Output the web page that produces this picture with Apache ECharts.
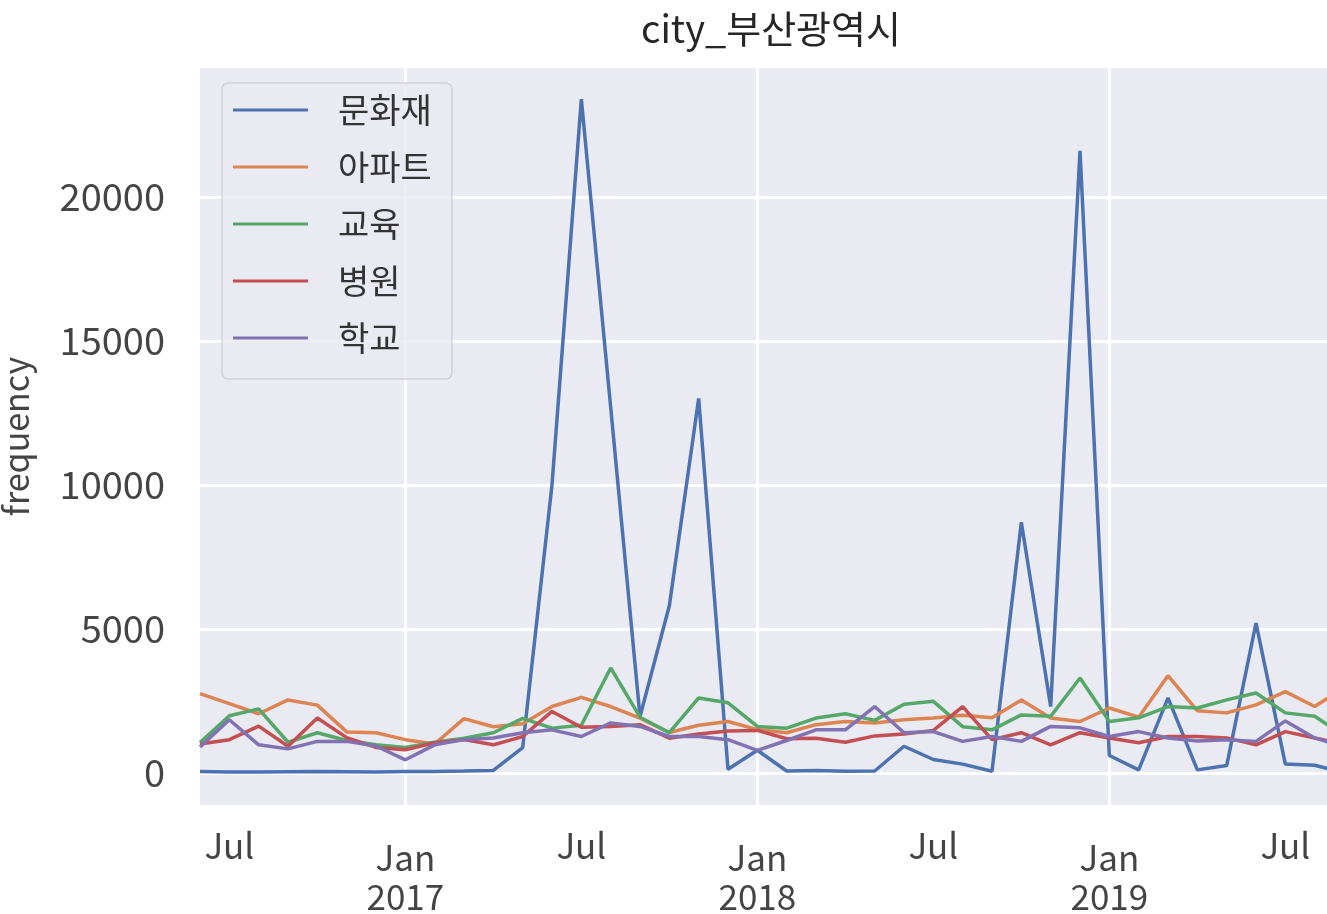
<!DOCTYPE html>
<html>
<head>
<meta charset="utf-8">
<script src="https://cdn.jsdelivr.net/npm/echarts@6/dist/echarts.min.js"></script>
<style>
  html, body { margin: 0; padding: 0; background: #ffffff; }
  #chart { width: 1327px; height: 914px; }
</style>
</head>
<body>
<div id="chart"></div>
<script>
// Monthly periods, Jun 2016 .. Sep 2019
const months = [
  '2016-06','2016-07','2016-08','2016-09','2016-10','2016-11','2016-12',
  '2017-01','2017-02','2017-03','2017-04','2017-05','2017-06','2017-07','2017-08','2017-09','2017-10','2017-11','2017-12',
  '2018-01','2018-02','2018-03','2018-04','2018-05','2018-06','2018-07','2018-08','2018-09','2018-10','2018-11','2018-12',
  '2019-01','2019-02','2019-03','2019-04','2019-05','2019-06','2019-07','2019-08','2019-09'
];

const seriesNames = ['문화재', '아파트', '교육', '병원', '학교'];

const heritage = [
  40, 30, 30, 35, 40, 35, 30,
  40, 45, 60, 80, 870, 10000, 23400, 12700, 1950, 5800, 13000, 120,
  780, 60, 80, 50, 60, 920, 460, 300, 50, 8700, 2300, 21600,
  600, 100, 2600, 100, 250, 5200, 300, 260, 0
];
const apartment = [
  2750, 2400, 2050, 2530, 2350, 1420, 1390,
  1150, 1000, 1880, 1600, 1700, 2300, 2620, 2300, 1900, 1400, 1650, 1780,
  1500, 1390, 1670, 1780, 1730, 1840, 1900, 2000, 1910, 2530, 1900, 1780,
  2250, 1930, 3370, 2150, 2080, 2360, 2820, 2300, 2950
];
const education = [
  1050, 1980, 2220, 1060, 1390, 1120, 970,
  880, 1060, 1200, 1390, 1890, 1550, 1650, 3640, 1930, 1390, 2600, 2430,
  1610, 1550, 1900, 2050, 1820, 2380, 2480, 1600, 1490, 2010, 1960, 3290,
  1780, 1910, 2300, 2250, 2530, 2770, 2080, 1960, 1300
];
const hospital = [
  1000, 1150, 1620, 920, 1900, 1220, 880,
  800, 1040, 1150, 970, 1260, 2130, 1580, 1610, 1670, 1200, 1350, 1450,
  1470, 1180, 1200, 1060, 1280, 1350, 1470, 2300, 1150, 1390, 970, 1390,
  1210, 1040, 1260, 1260, 1210, 970, 1430, 1210, 1000
];
const school = [
  900, 1840, 970, 830, 1090, 1090, 930,
  450, 970, 1150, 1210, 1390, 1490, 1260, 1730, 1610, 1260, 1260, 1150,
  780, 1120, 1490, 1490, 2300, 1390, 1430, 1090, 1260, 1090, 1610, 1560,
  1260, 1430, 1210, 1100, 1150, 1090, 1800, 1210, 900
];

const seriesValues = [heritage, apartment, education, hospital, school];
const seriesColors = ['#4C72B0', '#DD8452', '#55A868', '#C44E52', '#8172B3'];

// Tick positions on the month axis
const majorTickMonths = ['2017-01', '2018-01', '2019-01'];
const labelTickMonths = ['2016-07', '2017-01', '2017-07', '2018-01', '2018-07', '2019-01', '2019-07'];
const yTicks = [0, 5000, 10000, 15000, 20000];

const monthIndex = m => months.indexOf(m);
const FONT = '"Noto Sans CJK KR", "Noto Sans", sans-serif';
const LABEL_COLOR = '#444444';

const chart = echarts.init(document.getElementById('chart'), null, { renderer: 'canvas' });

chart.setOption({
  animation: false,
  backgroundColor: '#ffffff',
  title: {
    text: 'city_부산광역시',
    left: 636,
    top: 5,
    textStyle: { fontFamily: FONT, fontSize: 38, fontWeight: 'normal', color: '#262626' }
  },
  legend: {
    orient: 'vertical',
    left: 222,
    top: 83,
    selectedMode: false,
    data: seriesNames,
    icon: 'rect',
    itemWidth: 75,
    itemHeight: 3,
    itemGap: 17,
    padding: [7, 20, 21, 11],
    backgroundColor: 'rgba(234,234,242,0.85)',
    borderColor: '#d2d2da',
    borderWidth: 1.5,
    borderRadius: 6,
    textStyle: {
      fontFamily: FONT, fontSize: 34, color: '#333333',
      lineHeight: 40, padding: [0, 0, 0, 25]
    }
  },
  grid: {
    left: 200,
    top: 68,
    right: 0,
    bottom: 109,
    show: true,
    backgroundColor: '#EAEAF2',
    borderWidth: 0,
    containLabel: false,
    outerBoundsMode: 'none'
  },
  xAxis: {
    type: 'value',
    min: 0,
    max: 38.42,
    axisLine: { show: false },
    axisTick: { show: false, customValues: majorTickMonths.map(monthIndex) },
    splitLine: { show: true, lineStyle: { color: '#ffffff', width: 3 } },
    axisLabel: {
      customValues: labelTickMonths.map(monthIndex),
      margin: 25,
      color: LABEL_COLOR,
      fontFamily: FONT,
      fontSize: 35,
      formatter: function (v) {
        const m = months[Math.round(v)];
        const [yr, mo] = m.split('-');
        if (mo === '01') return '{jan|Jan}\n{yr|' + yr + '}';
        return '{jul|Jul}';
      },
      rich: {
        jul: { fontFamily: FONT, fontSize: 35, color: LABEL_COLOR, lineHeight: 32 },
        jan: { fontFamily: FONT, fontSize: 35, color: LABEL_COLOR, lineHeight: 56 },
        yr: { fontFamily: FONT, fontSize: 35, color: LABEL_COLOR, lineHeight: 22 }
      }
    }
  },
  yAxis: {
    type: 'value',
    min: -1120,
    max: 24480,
    name: 'frequency',
    nameLocation: 'middle',
    nameGap: 167,
    nameTextStyle: { fontFamily: FONT, fontSize: 34, color: LABEL_COLOR },
    axisLine: { show: false },
    axisTick: { show: false, customValues: yTicks },
    splitLine: { show: true, lineStyle: { color: '#ffffff', width: 3 } },
    axisLabel: {
      customValues: yTicks,
      margin: 35,
      color: LABEL_COLOR,
      fontFamily: FONT,
      fontSize: 38,
      formatter: v => String(v)
    }
  },
  series: seriesNames.map((name, k) => ({
    name: name,
    type: 'line',
    symbol: 'none',
    showSymbol: false,
    clip: true,
    color: seriesColors[k],
    lineStyle: { color: seriesColors[k], width: 3.5 },
    data: seriesValues[k].map((v, i) => [i, v])
  }))
});
</script>
</body>
</html>
